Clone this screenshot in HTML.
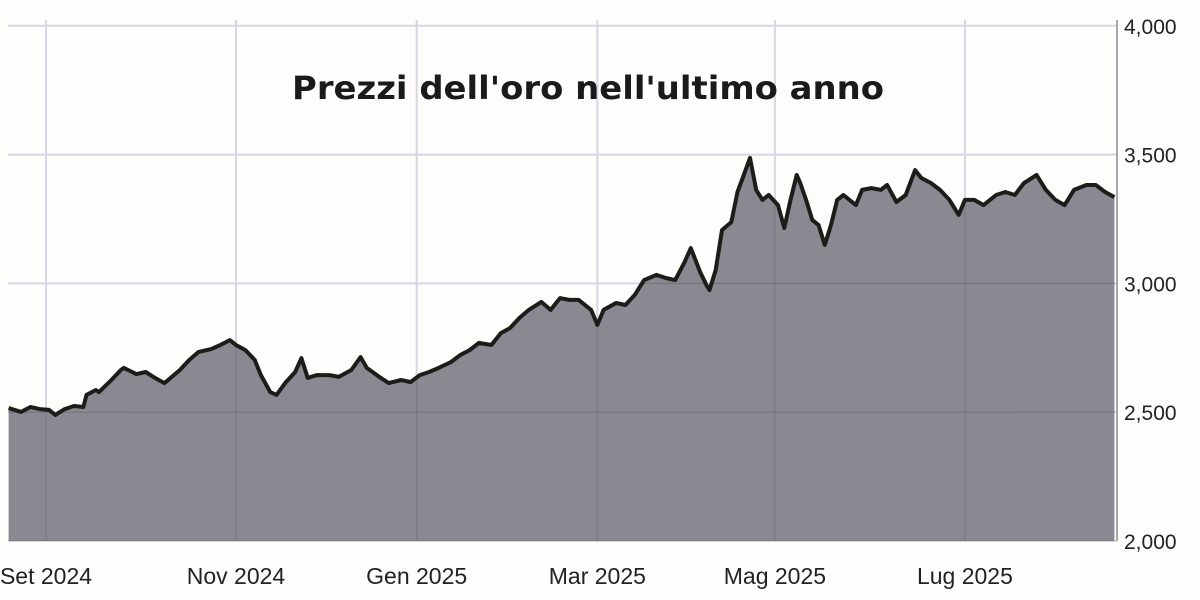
<!DOCTYPE html>
<html><head><meta charset="utf-8"><style>
body{margin:0;background:#fefdfb;}
svg{display:block;font-family:"Liberation Sans",sans-serif;}
</style></head><body>
<svg id="chart" width="1200" height="600" viewBox="0 0 1200 600">
<rect width="1200" height="600" fill="#fefdfb"/>
<g id="grid"></g>
<path id="area" fill="#8b8891"/>
<g id="hgrid-over"></g>
<path id="line" fill="none" stroke="#1e1c18" stroke-width="4" stroke-linejoin="round"/>
<line x1="1117" y1="20" x2="1117" y2="541" stroke="#8a8a90" stroke-width="1.5"/>
<g id="yticks"></g>
<g id="xticks"></g>
<text x="292" y="99" textLength="592" lengthAdjust="spacingAndGlyphs" font-family="DejaVu Sans, sans-serif" font-size="32" font-weight="bold" fill="#1a1a1a">Prezzi dell'oro nell'ultimo anno</text>
</svg>
<script>
const days=[-12,-8,-5,-2,1,3,6,9,12,13,16,17,21,24,25,29,32,35,38,40,43,46,49,53,56,59,61,64,67,69,72,74,77,80,82,84,87,91,94,98,101,103,107,110,114,117,120,123,126,130,133,136,139,143,146,149,152,155,159,162,165,168,171,175,177,179,183,186,189,192,196,199,202,205,207,210,212,213,215,217,220,222,224,226,228,230,232,235,237,239,241,242,244,246,248,250,252,254,256,260,262,265,268,270,273,276,279,281,284,287,290,293,295,298,301,305,308,311,314,318,321,324,327,330,334,337,340,343];
const prices=[2516,2501,2520,2512,2509,2489,2512,2524,2520,2567,2586,2578,2625,2664,2672,2648,2656,2633,2613,2633,2664,2703,2734,2745,2761,2780,2761,2741,2703,2644,2578,2567,2617,2656,2710,2633,2644,2644,2637,2664,2714,2672,2637,2613,2625,2617,2644,2656,2672,2695,2722,2741,2769,2761,2807,2827,2866,2897,2928,2897,2943,2936,2936,2897,2839,2897,2924,2916,2955,3013,3033,3021,3013,3083,3137,3044,2994,2974,3052,3207,3238,3355,3421,3487,3363,3324,3343,3304,3215,3324,3421,3394,3324,3246,3227,3149,3227,3324,3343,3304,3363,3370,3363,3382,3316,3343,3440,3409,3390,3363,3324,3266,3324,3324,3304,3343,3355,3343,3390,3421,3363,3324,3304,3363,3382,3382,3355,3335];
const yTicks=[2000,2500,3000,3500,4000];
const yTickLabels=["2,000","2,500","3,000","3,500","4,000"];
const xTickDays=[0,61,119,177,234,295];
const xTickLabels=["Set 2024","Nov 2024","Gen 2025","Mar 2025","Mag 2025","Lug 2025"];
const NS="http://www.w3.org/2000/svg";
const xs=d=>46+d*3.115;
const ys=p=>541-(p-2000)*128.8/500;
function mk(t,a,p){const e=document.createElementNS(NS,t);for(const k in a)e.setAttribute(k,a[k]);p.appendChild(e);return e;}
const grid=document.getElementById('grid'),over=document.getElementById('hgrid-over');
yTicks.forEach((v,i)=>{
  const l=mk('line',{x1:8,x2:1117,y1:ys(v),y2:ys(v),stroke:'#d6d6e4','stroke-width':2},grid);
  
  
  const l2=mk('line',{x1:8,x2:1117,y1:ys(v),y2:ys(v),stroke:'#6e6c72','stroke-width':1.5,opacity:0.6},over);
  
  
  const t=mk('text',{x:1124,y:ys(v)+8,'font-size':21,fill:'#222'},document.getElementById('yticks'));
  t.textContent=yTickLabels[i];
  
  
});
xTickDays.forEach((d,i)=>{
  const l=mk('line',{x1:xs(d),x2:xs(d),y1:20,y2:541,stroke:'#d6d6e4','stroke-width':2},grid);
  
  
  const l2=mk('line',{x1:xs(d),x2:xs(d),y1:20,y2:541,stroke:'#6e6c72','stroke-width':1.2,opacity:0.5},over);
  
  
  const t=mk('text',{x:xs(d),y:584,'font-size':23,fill:'#222','text-anchor':'middle'},document.getElementById('xticks'));
  t.textContent=xTickLabels[i];
  
  
});
let d='';
days.forEach((dd,i)=>{d+=(i?'L':'M')+xs(dd).toFixed(1)+','+ys(prices[i]).toFixed(1);});
document.getElementById('line').setAttribute('d',d);
document.getElementById('area').setAttribute('d',d+'L'+xs(days[days.length-1]).toFixed(1)+','+ys(2000)+'L'+xs(days[0]).toFixed(1)+','+ys(2000)+'Z');
const clip=mk('clipPath',{id:'ac'},document.getElementById('chart'));
mk('path',{d:document.getElementById('area').getAttribute('d')},clip);
over.setAttribute('clip-path','url(#ac)');
</script>
</body></html>
